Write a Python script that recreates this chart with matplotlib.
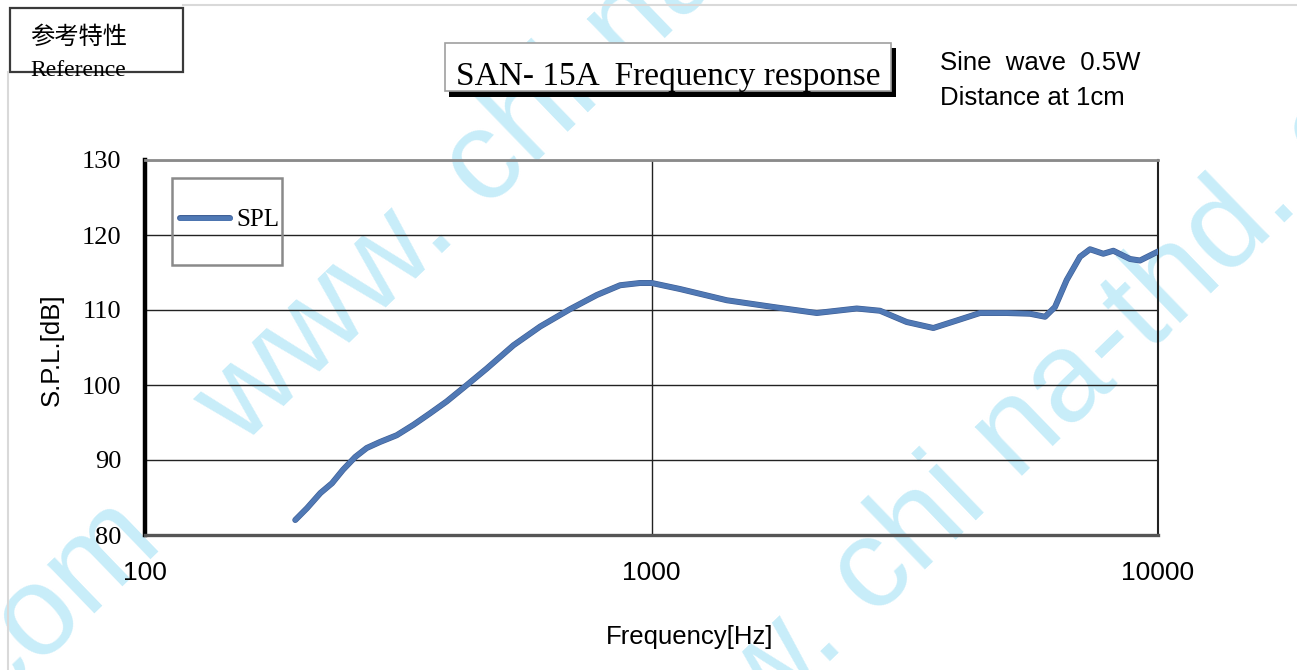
import matplotlib
matplotlib.use("Agg")
import matplotlib.pyplot as plt
from matplotlib.patches import Rectangle
from matplotlib.lines import Line2D
from matplotlib.ticker import NullLocator
import matplotlib.patheffects as pe

# ---------------- data ----------------
freq_hz = [198, 209, 222, 234, 246, 260, 274, 291, 314, 339, 365, 394, 432,
           473, 534, 603, 690, 780, 867, 949, 1001, 1138, 1408, 1740, 2120,
           2542, 2826, 3190, 3601, 4006, 4452, 5028, 5589, 5984, 6261, 6603,
           7015, 7341, 7798, 8163, 8806, 9215, 10000]
spl_db = [82.0, 83.6, 85.6, 86.9, 88.7, 90.4, 91.6, 92.4, 93.3, 94.7, 96.2,
          97.8, 100.0, 102.2, 105.3, 107.8, 110.1, 112.0, 113.3, 113.6, 113.6,
          112.8, 111.3, 110.4, 109.6, 110.2, 109.9, 108.4, 107.6, 108.6, 109.6,
          109.6, 109.5, 109.1, 110.4, 114.0, 117.1, 118.1, 117.5, 117.9, 116.8,
          116.6, 117.8]
series_name = "SPL"
x_ticks = [100, 1000, 10000]
x_tick_labels = ["100", "1000", "10000"]
y_ticks = [80, 90, 100, 110, 120, 130]
title_text = "SAN- 15A  Frequency response"
note_lines = ["Sine  wave  0.5W", "Distance at 1cm"]
tag_cn = "参考特性"
tag_en = "Reference"
x_label = "Frequency[Hz]"
y_label = "S.P.L.[dB]"
watermark = "www. chi na-thd. com"

# ---------------- figure ----------------
W, H = 1297, 670
fig = plt.figure(figsize=(W / 100, H / 100), dpi=100)
fig.patch.set_facecolor("white")


def fx(px):
    return px / W


def fy(py):
    return 1 - py / H


SERIF = ["Liberation Serif", "DejaVu Serif"]
SANS = ["Liberation Sans", "DejaVu Sans"]
CJK = ["Noto Sans CJK SC", "DejaVu Sans"]

# watermark (behind everything)
wm_color = "#c8edf9"
wm_kw = dict(rotation=44, rotation_mode="anchor", va="baseline", color=wm_color,
             fontsize=92, family=SANS, zorder=-5)
fig.text(fx(240), fy(448), watermark, ha="left", **wm_kw)
fig.text(fx(165), fy(545), watermark, ha="right", **wm_kw)
fig.text(fx(628), fy(856), watermark, ha="left", **wm_kw)

# page border lines
fig.add_artist(Line2D([fx(183), 1.0], [fy(5), fy(5)], color="#d9d9d9", lw=1.5))
fig.add_artist(Line2D([fx(8), fx(8)], [fy(72), 0.0], color="#d9d9d9", lw=1.5))

# reference tag box
fig.add_artist(Rectangle((fx(10), fy(72)), fx(183) - fx(10), (72 - 8) / H,
                         facecolor="none", edgecolor="#3a3a3a", lw=1.6))
fig.text(fx(30), fy(37), tag_cn, ha="left", va="center", fontsize=17.5, family=CJK)
fig.text(fx(30), fy(76), tag_en, ha="left", va="baseline", fontsize=17, family=SERIF)

# title box with shadow
fig.add_artist(Rectangle((fx(449), fy(97)), fx(896) - fx(449), (97 - 48) / H,
                         facecolor="black", edgecolor="none"))
fig.add_artist(Rectangle((fx(445), fy(91)), fx(891) - fx(445), (91 - 43) / H,
                         facecolor="white", edgecolor="#a0a0a0", lw=1.2))
fig.text(fx(668), fy(85), title_text, ha="center", va="baseline",
         fontsize=24, family=SERIF)

# notes
fig.text(fx(940), fy(70), note_lines[0], ha="left", va="baseline", fontsize=18.5, family=SANS)
fig.text(fx(940), fy(105), note_lines[1], ha="left", va="baseline", fontsize=18.5, family=SANS)

# ---------------- axes ----------------
ax = fig.add_axes([fx(145), fy(535), fx(1158) - fx(145), (535 - 160) / H])
ax.set_facecolor("none")
ax.set_xscale("log")
ax.set_xlim(x_ticks[0], x_ticks[-1])
ax.set_ylim(y_ticks[0], y_ticks[-1])
ax.set_xticks(x_ticks)
ax.set_xticklabels(x_tick_labels, family=SANS, fontsize=19)
ax.xaxis.set_minor_locator(NullLocator())
ax.set_yticks(y_ticks)
ax.set_yticklabels([str(v) for v in y_ticks], family=SERIF, fontsize=19)
ax.tick_params(axis="both", length=0)
ax.tick_params(axis="y", pad=17)
ax.tick_params(axis="x", pad=19)
ax.grid(True, which="major", color="#222222", lw=1.0)
ax.set_axisbelow(True)

ax.plot(freq_hz, spl_db, color="#5079b5", lw=3.4, solid_capstyle="round",
        solid_joinstyle="round", label=series_name, zorder=3,
        path_effects=[pe.Stroke(linewidth=4.3, foreground="#3f5f96"), pe.Normal()])

ax.spines["left"].set_linewidth(3.2)
ax.spines["left"].set_color("black")
ax.spines["bottom"].set_linewidth(2.4)
ax.spines["bottom"].set_color("#555555")
ax.spines["top"].set_linewidth(2.0)
ax.spines["top"].set_color("#8a8a8a")
ax.spines["right"].set_linewidth(1.5)
ax.spines["right"].set_color("#222222")

# legend
ax_w = 1158 - 145
ax_h = 535 - 160
ax.add_patch(Rectangle(((172 - 145) / ax_w, (535 - 265) / ax_h), 110 / ax_w, 87 / ax_h,
                       transform=ax.transAxes, facecolor="none",
                       edgecolor="#8a8a8a", lw=1.8, zorder=4))
ax.legend(loc="center left", bbox_to_anchor=((180 - 145) / ax_w, (535 - 220) / ax_h),
          frameon=False, borderpad=0, borderaxespad=0, handlelength=2.0,
          handletextpad=0.25, prop={"family": SERIF, "size": 18})

# axis labels
fig.text(fx(52), fy(350), y_label, rotation=90, ha="center", va="center",
         fontsize=18.5, family=SANS)
fig.text(fx(690), fy(637), x_label, ha="center", va="center", fontsize=18.5, family=SANS)

fig.savefig("out.png", dpi=100)
